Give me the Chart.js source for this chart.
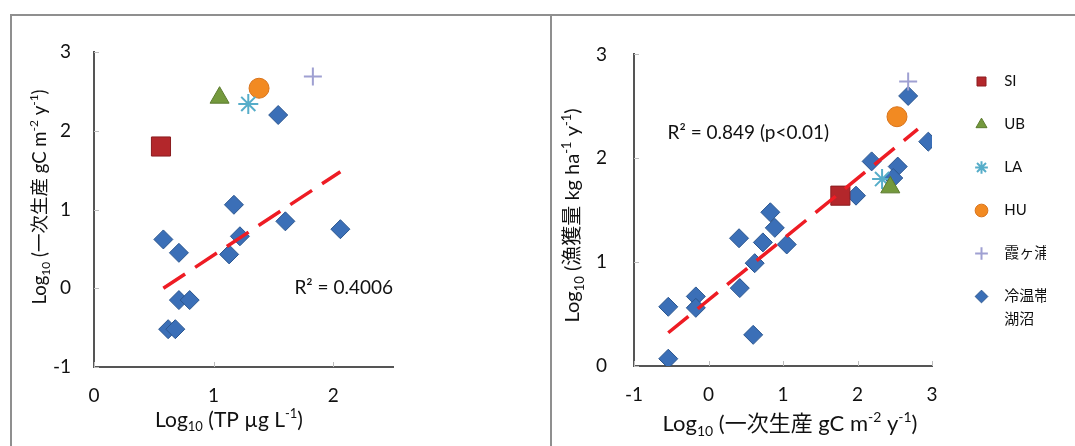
<!DOCTYPE html>
<html>
<head>
<meta charset="utf-8">
<script src="https://cdn.jsdelivr.net/npm/chart.js@4.4.0/dist/chart.umd.min.js"></script>
<style>
  body { margin: 0; background: #fff; }
  #page { position: relative; width: 1075px; height: 446px; overflow: hidden; }
  .frame { position: absolute; border: 2px solid #8f8f8f; border-bottom: none; }
  #f1 { left: 10px; top: 14px; width: 538px; height: 440px; }
  #f2 { left: 552px; top: 14px; width: 540px; height: 440px; border-left: none; border-right: none; }
  canvas { position: absolute; top: 16px; }
  #c1 { left: 12px; }
  #c2 { left: 552px; }
</style>
</head>
<body>
<div id="page">
  <div class="frame" id="f1"></div>
  <div class="frame" id="f2"></div>
  <canvas id="c1" width="538" height="430"></canvas>
  <canvas id="c2" width="523" height="430"></canvas>
</div>
<script>
const FONT = "Lato, 'Noto Sans CJK JP', sans-serif";
const INK = '#111';
Chart.defaults.font.family = FONT;
Chart.defaults.color = INK;

// 左: Log10(TP) と Log10(一次生産)
const leftSI = [[0.56, 1.80]];
const leftUB = [[1.05, 2.42]];
const leftLA = [[1.29, 2.34]];
const leftHU = [[1.38, 2.54]];
const leftKasumi = [[1.83, 2.69]];
const leftLakes = [
  [1.54, 2.20], [1.17, 1.06], [1.60, 0.85], [2.06, 0.75], [0.58, 0.62], [0.71, 0.45],
  [1.22, 0.66], [1.13, 0.43], [0.71, -0.15], [0.80, -0.15], [0.62, -0.52], [0.68, -0.52]
];
const leftTrend = [[0.58, 0.0], [2.06, 1.48]];

// 右: Log10(一次生産) と Log10(漁獲量)
const rightSI = [[1.77, 1.64]];
const rightUB = [[2.44, 1.72]];
const rightLA = [[2.33, 1.80]];
const rightHU = [[2.53, 2.40]];
const rightKasumi = [[2.68, 2.74]];
const rightLakes = [
  [-0.54, 0.07], [-0.54, 0.57], [-0.17, 0.67], [-0.17, 0.56], [0.60, 0.30], [0.42, 0.75],
  [0.62, 0.99], [0.41, 1.23], [0.73, 1.19], [1.05, 1.17], [0.89, 1.33], [0.83, 1.48],
  [2.68, 2.60], [2.95, 2.16], [2.19, 1.97], [2.54, 1.92], [2.48, 1.81], [1.98, 1.64]
];
const rightTrend = [[-0.54, 0.32], [2.81, 2.28]];

const seriesNames = ['SI', 'UB', 'LA', 'HU', '霞ヶ浦', ['冷温帯', '湖沼']];
const leftXTicks = [0, 1, 2];
const leftYTicks = [-1, 0, 1, 2, 3];
const rightXTicks = [-1, 0, 1, 2, 3];
const rightYTicks = [0, 1, 2, 3];
const leftR2 = 'R² = 0.4006';
const rightR2 = 'R² = 0.849 (p<0.01)';

// マーカーの見た目 (系列順)
const markerStyles = [
  {shape: 'rect', r: 13.5, fill: '#b3272b', line: '#8c1d20', w: 1},
  {shape: 'triangle', r: 11, fill: '#74993d', line: '#5b7a2e', w: 1},
  {shape: 'star', r: 10, fill: '#56adc9', line: '#56adc9', w: 2},
  {shape: 'circle', r: 10, fill: '#f28a22', line: '#d9731a', w: 1},
  {shape: 'cross', r: 9, fill: '#9fa0d2', line: '#9fa0d2', w: 2},
  {shape: 'rectRot', r: 9.5, fill: '#3b6fb7', line: '#2b568f', w: 1}
];

const toPts = arr => arr.map(p => ({x: p[0], y: p[1]}));

function makeDatasets(series, trend) {
  const ds = [{
    label: 'trend', data: toPts(trend), showLine: true,
    borderColor: '#ee1c24', borderWidth: 3.5, borderDash: [26, 12],
    pointRadius: 0, pointHoverRadius: 0, fill: false
  }];
  series.forEach((s, i) => {
    const st = markerStyles[i];
    const name = seriesNames[i];
    ds.push({
      label: Array.isArray(name) ? name.map(t => '  ' + t) : '  ' + name,
      data: toPts(s),
      pointStyle: st.shape, pointRadius: st.r, pointHoverRadius: st.r,
      backgroundColor: st.fill, borderColor: st.line, borderWidth: st.w
    });
  });
  return ds;
}

function axis(ticks, min, max, pad, size, horizontal) {
  return {
    type: 'linear', min: min, max: max,
    afterBuildTicks: s => { s.ticks = ticks.map(v => ({value: v})); },
    ticks: {padding: pad, font: {size: 19}, color: INK},
    grid: {display: false, drawTicks: false},
    border: {display: true, color: '#555', width: 2},
    afterFit: s => { if (horizontal) s.height = size; else s.width = size; }
  };
}

// 下付き・上付きのある軸タイトル
function drawRich(ctx, parts, size, cx, cy, rot) {
  ctx.save();
  ctx.translate(cx, cy);
  ctx.rotate(rot);
  const fontOf = k => (k ? Math.round(size * 0.64) : size) + 'px ' + FONT;
  let total = 0;
  const widths = parts.map(p => { ctx.font = fontOf(p[1]); const w = ctx.measureText(p[0]).width; total += w; return w; });
  let x = -total / 2;
  ctx.textBaseline = 'alphabetic';
  ctx.textAlign = 'left';
  ctx.fillStyle = INK;
  parts.forEach((p, i) => {
    ctx.font = fontOf(p[1]);
    const dy = p[1] === 1 ? size * 0.22 : p[1] === 2 ? -size * 0.4 : 0;
    ctx.fillText(p[0], x, size * 0.36 + dy);
    x += widths[i];
  });
  ctx.restore();
}

function extras(cfg) {
  return {
    id: 'extras',
    afterDraw(chart) {
      const {ctx, chartArea: a} = chart;
      const xs = chart.scales.x, ys = chart.scales.y;
      ctx.save();
      // 内向きの目盛り
      ctx.strokeStyle = '#bdbdbd';
      ctx.lineWidth = 1;
      xs.ticks.forEach(t => {
        const px = Math.round(xs.getPixelForValue(t.value)) + 0.5;
        ctx.beginPath(); ctx.moveTo(px, a.bottom); ctx.lineTo(px, a.bottom - 5); ctx.stroke();
      });
      ys.ticks.forEach(t => {
        const py = Math.round(ys.getPixelForValue(t.value)) + 0.5;
        ctx.beginPath(); ctx.moveTo(a.left, py); ctx.lineTo(a.left + 5, py); ctx.stroke();
      });
      // R²
      ctx.font = '19px ' + FONT;
      ctx.fillStyle = INK;
      ctx.textBaseline = 'middle';
      ctx.textAlign = cfg.r2Align;
      ctx.fillText(cfg.r2Text, xs.getPixelForValue(cfg.r2At[0]), ys.getPixelForValue(cfg.r2At[1]));
      ctx.restore();
      drawRich(ctx, cfg.xTitle, cfg.xSize, a.left + cfg.xPos[0], a.bottom + cfg.xPos[1], 0);
      drawRich(ctx, cfg.yTitle, cfg.ySize, a.left + cfg.yPos[0], a.top + cfg.yPos[1], -Math.PI / 2);
    }
  };
}

const ppTitle = [['Log', 0], ['10', 1], [' (一次生産 gC m', 0], ['-2', 2], [' y', 0], ['-1', 2], [')', 0]];

new Chart(document.getElementById('c1'), {
  type: 'scatter',
  data: {datasets: makeDatasets([leftSI, leftUB, leftLA, leftHU, leftKasumi, leftLakes], leftTrend)},
  options: {
    responsive: false, animation: false,
    layout: {padding: {left: 0, top: 36, right: 157, bottom: 0}},
    scales: {
      x: axis(leftXTicks, 0, 2.5, 17, 79, true),
      y: axis(leftYTicks, -1, 3, 23, 82, false)
    },
    plugins: {legend: {display: false}, tooltip: {enabled: false}}
  },
  plugins: [extras({
    r2Text: leftR2, r2At: [2.5, 0], r2Align: 'right',
    xTitle: [['Log', 0], ['10', 1], [' (TP µg L', 0], ['-1', 2], [')', 0]], xSize: 21, xPos: [135, 52],
    yTitle: ppTitle, ySize: 18.5, yPos: [-55, 145]
  })]
});

new Chart(document.getElementById('c2'), {
  type: 'scatter',
  data: {datasets: makeDatasets([rightSI, rightUB, rightLA, rightHU, rightKasumi, rightLakes], rightTrend)},
  options: {
    responsive: false, animation: false,
    layout: {padding: {left: 0, top: 30, right: 29, bottom: 0}},
    scales: {
      x: axis(rightXTicks, -1, 3, 17, 80, true),
      y: axis(rightYTicks, 0, 3, 27, 82, false),
      gap: {
        type: 'linear', position: 'right', display: true,
        ticks: {display: false}, grid: {display: false}, border: {display: false},
        afterFit: s => { s.width = 14; }
      }
    },
    plugins: {
      title: {display: true, text: ' ', font: {size: 5}, padding: {top: 1, bottom: 0}},
      legend: {
        display: true, position: 'right', align: 'start', maxWidth: 100,
        labels: {
          usePointStyle: true, boxHeight: 9, padding: 28,
          font: {size: 15, lineHeight: 1.53}, color: INK,
          filter: item => item.datasetIndex !== 0
        }
      },
      tooltip: {enabled: false}
    }
  },
  plugins: [extras({
    r2Text: rightR2, r2At: [-0.55, 2.24], r2Align: 'left',
    xTitle: ppTitle, xSize: 22, xPos: [156, 57],
    yTitle: [['Log', 0], ['10', 1], [' (漁獲量 kg ha', 0], ['-1', 2], [' y', 0], ['-1', 2], [')', 0]], ySize: 20, yPos: [-62, 161]
  })]
});
</script>
</body>
</html>
